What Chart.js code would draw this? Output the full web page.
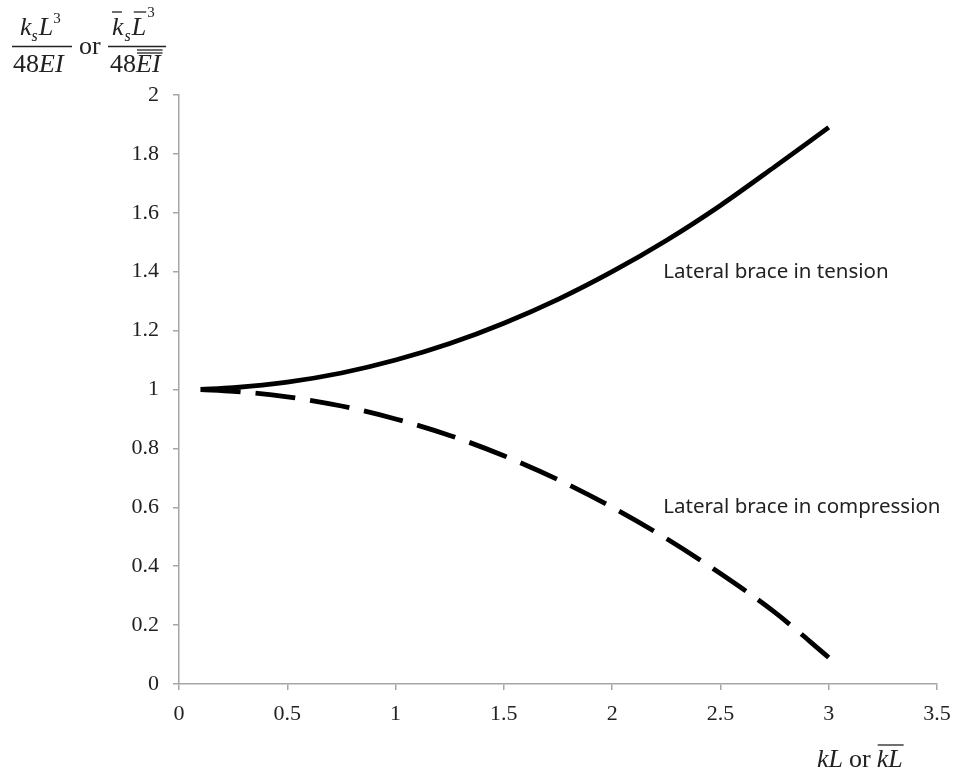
<!DOCTYPE html>
<html>
<head>
<meta charset="utf-8">
<script src="https://cdn.jsdelivr.net/npm/chart.js@4.4.1/dist/chart.umd.min.js"></script>
<style>
  html, body { margin:0; padding:0; background:#fff; }
  #wrap { width:955px; height:779px; }
</style>
</head>
<body>
<div id="wrap"><canvas id="chart" width="955" height="779"></canvas></div>
<script>
// values
var kL = [0.1, 0.25, 0.5, 0.75, 1, 1.25, 1.5, 1.75, 2, 2.25, 2.5, 2.75, 3];
var tension = [1.0, 1.006, 1.025, 1.056, 1.1, 1.156, 1.225, 1.306, 1.4, 1.506, 1.625, 1.756, 1.89];
var compression = [1.0, 0.994, 0.975, 0.944, 0.9, 0.844, 0.775, 0.694, 0.6, 0.494, 0.375, 0.244, 0.09];

var xTicks = [0, 0.5, 1, 1.5, 2, 2.5, 3, 3.5];
var xTickLabels = ['0', '0.5', '1', '1.5', '2', '2.5', '3', '3.5'];
var yTicks = [0, 0.2, 0.4, 0.6, 0.8, 1, 1.2, 1.4, 1.6, 1.8, 2];
var yTickLabels = ['0', '0.2', '0.4', '0.6', '0.8', '1', '1.2', '1.4', '1.6', '1.8', '2'];

var labels = [
    {text:'Lateral brace in tension', x:2.25, y:1.4},
    {text:'Lateral brace in compression', x:2.25, y:0.6}
];

function pts(ys){
    return kL.map(function(x, i){ return {x:x, y:ys[i]}; });
}

var SERIF = '"Liberation Serif", "Times New Roman", serif';
var axisGrey = '#a6a6a6';

// text outside the plot: the two axis titles with bars and overlines
var titles = {
    id:'titles',
    afterDraw:function(chart){
        var ctx = chart.ctx;
        ctx.save();
        ctx.fillStyle = '#222';
        ctx.strokeStyle = '#222';
        ctx.textBaseline = 'alphabetic';
        ctx.textAlign = 'left';
        var big = 'italic 26px ' + SERIF, small = 'italic 16px ' + SERIF;
        function t(str, x, y, font){ ctx.font = font; ctx.fillText(str, x, y); return x + ctx.measureText(str).width; }
        function line(x1, y1, x2, y2, w){ ctx.lineWidth = w || 1.3; ctx.beginPath(); ctx.moveTo(x1, y1); ctx.lineTo(x2, y2); ctx.stroke(); }

        // first fraction
        var x = t('k', 20, 35, big);
        x = t('s', x, 41, small);
        x = t('L', x + 1, 35, big);
        t('3', x, 23, '15px ' + SERIF);
        line(12, 46.5, 72, 46.5);
        x = t('48', 13, 72, '26px ' + SERIF);
        t('EI', x, 72, big);

        t('or', 79, 54, '26px ' + SERIF);

        // second fraction
        x = t('k', 112, 35, big);
        line(112, 12, 122, 12);
        x = t('s', x + 1, 41, small);
        var lx = x + 1;
        x = t('L', lx, 35, big);
        line(lx + 2, 12, x, 12);
        t('3', x + 1, 17, '15px ' + SERIF);
        line(108, 46.5, 166, 46.5);
        x = t('48', 110, 72, '26px ' + SERIF);
        var ex = x;
        x = t('EI', x, 72, big);
        line(ex + 1, 50, x + 2, 50);
        line(ex + 1, 53, x + 2, 53);

        // x axis title
        x = t('kL', 817, 767, big);
        x = t('or', x + 6, 767, '26px ' + SERIF);
        var kx = x + 6;
        x = t('kL', kx, 767, big);
        line(kx + 1, 745, x + 1, 745);

        // curve labels
        var xs = chart.scales.x, ys = chart.scales.y;
        ctx.font = '20.5px "Noto Sans", "Open Sans", sans-serif';
        ctx.textBaseline = 'middle';
        labels.forEach(function(l){
            ctx.fillText(l.text, xs.getPixelForValue(l.x) - 3, ys.getPixelForValue(l.y));
        });
        ctx.restore();
    }
};

new Chart(document.getElementById('chart'), {
    type:'line',
    data:{
        datasets:[{
            label:'Lateral brace in tension',
            data:pts(tension),
            borderColor:'#000',
            borderWidth:4.8,
            pointRadius:0,
            cubicInterpolationMode:'monotone',
            borderCapStyle:'butt'
        },{
            label:'Lateral brace in compression',
            data:pts(compression),
            borderColor:'#000',
            borderWidth:4.8,
            borderDash:[40, 15],
            pointRadius:0,
            cubicInterpolationMode:'monotone',
            borderCapStyle:'butt'
        }]
    },
    options:{
        responsive:false,
        animation:false,
        layout:{padding:{top:95, right:18, left:0, bottom:0}},
        plugins:{legend:{display:false}, tooltip:{enabled:false}},
        scales:{
            x:{
                type:'linear', min:0, max:3.5,
                afterBuildTicks:function(s){ s.ticks = xTicks.map(function(v){ return {value:v}; }); },
                afterFit:function(s){ s.height = 95; s.paddingLeft = 0; s.paddingRight = 0; },
                grid:{drawOnChartArea:false, color:axisGrey, tickLength:6, lineWidth:1.5},
                border:{color:axisGrey, width:1.5},
                ticks:{
                    color:'#222', padding:11, maxRotation:0, autoSkip:false,
                    font:{family:SERIF, size:22},
                    callback:function(v, i){ return xTickLabels[i]; }
                }
            },
            y:{
                type:'linear', min:0, max:2,
                afterBuildTicks:function(s){ s.ticks = yTicks.map(function(v){ return {value:v}; }); },
                afterFit:function(s){ s.width = 179; s.paddingTop = 0; s.paddingBottom = 0; },
                grid:{drawOnChartArea:false, color:axisGrey, tickLength:6, lineWidth:1.5},
                border:{color:axisGrey, width:1.5},
                ticks:{
                    color:'#222', padding:14, autoSkip:false,
                    font:{family:SERIF, size:22},
                    callback:function(v, i){ return yTickLabels[i]; }
                }
            }
        }
    },
    plugins:[titles]
});
</script>
</body>
</html>
